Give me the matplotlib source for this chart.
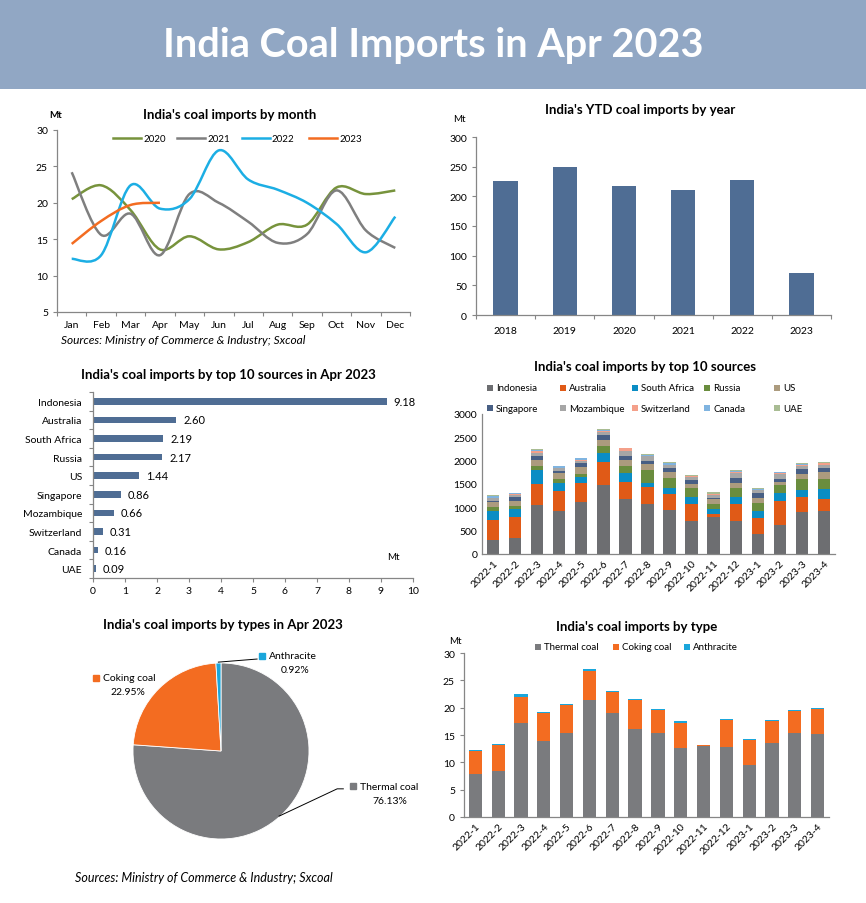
import numpy as np
import matplotlib
matplotlib.use("Agg")
import matplotlib.pyplot as plt
from matplotlib.path import Path
from matplotlib.patches import PathPatch, Rectangle
from matplotlib.lines import Line2D

plt.rcParams['font.family'] = ['Lato', 'DejaVu Sans']

# ---- data ----
months = ['Jan', 'Feb', 'Mar', 'Apr', 'May', 'Jun', 'Jul', 'Aug', 'Sep', 'Oct', 'Nov', 'Dec']
imp_2020 = [20.5, 22.4, 19.0, 13.6, 15.4, 13.6, 14.6, 17.0, 17.0, 22.1, 21.2, 21.7]
imp_2021 = [24.2, 15.6, 18.5, 12.8, 21.2, 20.0, 17.4, 14.5, 15.7, 21.7, 16.2, 13.8]
imp_2022 = [12.3, 12.8, 22.4, 19.2, 20.5, 27.2, 23.2, 21.8, 20.0, 17.1, 13.2, 18.1]
imp_2023 = [14.35, 17.5, 19.7, 20.0]

ytd_years = ['2018', '2019', '2020', '2021', '2022', '2023']
ytd_values = [226.2, 249.9, 217.8, 211.0, 227.9, 70.9]

top_sources = ['Indonesia', 'Australia', 'South Africa', 'Russia', 'US',
               'Singapore', 'Mozambique', 'Switzerland', 'Canada', 'UAE']
apr_values = [9.18, 2.60, 2.19, 2.17, 1.44, 0.86, 0.66, 0.31, 0.16, 0.09]

periods = ['2022-1', '2022-2', '2022-3', '2022-4', '2022-5', '2022-6', '2022-7', '2022-8',
           '2022-9', '2022-10', '2022-11', '2022-12', '2023-1', '2023-2', '2023-3', '2023-4']
# monthly imports by source, 10kt
indonesia = [300, 343, 1057, 928, 1121, 1485, 1186, 1071, 943, 714, 800, 714, 436, 628, 893, 918]
australia = [430, 457, 443, 429, 407, 486, 357, 372, 343, 357, 57, 357, 335, 515, 335, 260]
south_africa = [200, 171, 300, 171, 129, 200, 200, 85, 128, 157, 114, 157, 157, 171, 150, 219]
russia = [85, 64, 93, 86, 57, 143, 150, 272, 214, 186, 100, 186, 172, 171, 229, 217]
us = [95, 107, 128, 121, 157, 136, 128, 128, 129, 86, 107, 107, 100, 65, 107, 144]
singapore = [35, 85, 86, 50, 86, 107, 86, 72, 93, 93, 29, 107, 107, 57, 114, 86]
mozambique = [50, 43, 64, 57, 36, 57, 107, 100, 57, 57, 64, 107, 57, 107, 57, 66]
switzerland = [15, 14, 43, 8, 28, 29, 50, 7, 7, 14, 14, 22, 14, 14, 22, 31]
canada = [30, 21, 21, 35, 29, 21, 7, 7, 43, 14, 8, 21, 22, 22, 14, 16]
uae = [15, 7, 8, 8, 7, 14, 7, 29, 14, 15, 28, 22, 14, 14, 22, 9]
source_series = [indonesia, australia, south_africa, russia, us,
                 singapore, mozambique, switzerland, canada, uae]

thermal = [7.93, 8.48, 17.26, 13.96, 15.43, 21.46, 19.09, 16.16, 15.30, 12.68, 12.93, 12.87, 9.57, 13.60, 15.30, 15.22]
coking = [4.14, 4.62, 4.69, 5.00, 5.12, 5.24, 3.84, 5.30, 4.33, 4.58, 0.18, 4.93, 4.58, 3.96, 4.15, 4.59]
anthracite = [0.23, 0.30, 0.49, 0.31, 0.18, 0.43, 0.18, 0.19, 0.19, 0.24, 0.12, 0.19, 0.18, 0.24, 0.18, 0.18]

pie_labels = ['Thermal coal', 'Coking coal', 'Anthracite']
pie_shares = [76.13, 22.95, 0.92]

# ---- style ----
W, H = 866, 904
AXIS_C = '#868686'
BAR_BLUE = '#4F6D94'
YEAR_COLORS = ['#77933C', '#7F7F7F', '#1CAEE4', '#F36C21']
SOURCE_COLORS = ['#6D6E71', '#E05A17', '#0A8DC4', '#6A8D3E', '#AC9B7E',
                 '#485F84', '#A6A6A6', '#F4A08A', '#80B4E0', '#A9BC93']
TYPE_COLORS = ['#7A7B7E', '#F36C21', '#1AA6DB']
TICK_FS = 7.5
TITLE_FS = 9.5

fig = plt.figure(figsize=(W / 100, H / 100), dpi=100)


def px_axes(x0, y0, x1, y1):
    return fig.add_axes([x0 / W, 1 - y1 / H, (x1 - x0) / W, (y1 - y0) / H])


def ftext(x, y, s, **kw):
    kw.setdefault('ha', 'center')
    kw.setdefault('va', 'center')
    fig.text(x / W, 1 - y / H, s, **kw)


def legend_box(x, y, label, color):
    fig.patches.append(Rectangle(((x - 3) / W, 1 - (y + 3) / H), 6 / W, 6 / H,
                                 transform=fig.transFigure, color=color, lw=0))
    ftext(x + 6, y, label, ha='left', fontsize=7)


def style_ax(ax):
    for s in ['top', 'right']:
        ax.spines[s].set_visible(False)
    for s in ['left', 'bottom']:
        ax.spines[s].set_color(AXIS_C)
        ax.spines[s].set_linewidth(0.9)
    ax.tick_params(which='both', colors=AXIS_C, labelcolor='black', labelsize=TICK_FS,
                   length=3, width=0.8)
    ax.set_facecolor('none')


def category_xaxis(ax, labels, boundary_ticks=True, **lab_kw):
    n = len(labels)
    ax.set_xlim(-0.5, n - 0.5)
    ax.set_xticks(np.arange(-0.5, n, 1))
    ax.set_xticklabels([])
    if not boundary_ticks:
        ax.tick_params(axis='x', which='major', length=0)
    ax.set_xticks(np.arange(n), minor=True)
    ax.set_xticklabels(labels, minor=True, **lab_kw)
    ax.tick_params(axis='x', which='minor', length=0)


def smooth_line(ax, ys, color):
    pts = np.column_stack([np.arange(len(ys)), ys]).astype(float)
    n = len(pts)
    verts, codes = [pts[0]], [Path.MOVETO]
    for i in range(n - 1):
        p0, p1 = pts[max(i - 1, 0)], pts[i]
        p2, p3 = pts[i + 1], pts[min(i + 2, n - 1)]
        verts += [p1 + (p2 - p0) / 6, p2 - (p3 - p1) / 6, p2]
        codes += [Path.CURVE4] * 3
    ax.add_patch(PathPatch(Path(verts, codes), fill=False, edgecolor=color, lw=1.8))


# header band
fig.patches.append(Rectangle((0, 1 - 90 / H), 1, 90 / H, transform=fig.transFigure,
                             color='#91A7C4', lw=0))
ftext(433, 46, 'India Coal Imports in Apr 2023', color='white', fontsize=28.5, fontweight='bold')

# ---- 1. monthly lines ----
ax1 = px_axes(57, 131, 410, 313)
style_ax(ax1)
for ys, c in zip([imp_2020, imp_2021, imp_2022, imp_2023], YEAR_COLORS):
    smooth_line(ax1, ys, c)
ax1.set_ylim(5, 30)
ax1.set_yticks(range(5, 31, 5))
category_xaxis(ax1, months)
ax1.tick_params(axis='x', which='minor', pad=6)
ftext(230, 115, "India's coal imports by month", fontsize=TITLE_FS, fontweight='bold')
ftext(56, 115, 'Mt', fontsize=7, fontweight='bold')
for x0, year, c in zip([113, 177, 242, 309], ['2020', '2021', '2022', '2023'], YEAR_COLORS):
    fig.add_artist(Line2D([x0 / W, (x0 + 28) / W], [1 - 139 / H] * 2, color=c, lw=1.8))
    ftext(x0 + 30, 139, year, ha='left', fontsize=7)
ftext(61, 340, 'Sources: Ministry of Commerce & Industry; Sxcoal', ha='left',
      fontsize=8.6, style='italic')

# ---- 2. YTD by year ----
ax2 = px_axes(476, 138, 831, 316)
style_ax(ax2)
ax2.bar(np.arange(len(ytd_years)), ytd_values, width=0.41, color=BAR_BLUE)
ax2.set_ylim(0, 300)
ax2.set_yticks(range(0, 301, 50))
category_xaxis(ax2, ytd_years)
ax2.tick_params(axis='x', which='minor', pad=8)
ftext(640, 110, "India's YTD coal imports by year", fontsize=TITLE_FS, fontweight='bold')
ftext(459, 119, 'Mt', fontsize=7)

# ---- 3. top 10 sources in Apr 2023 ----
ax3 = px_axes(93, 393, 413, 579)
style_ax(ax3)
ypos = np.arange(len(top_sources))[::-1]
ax3.barh(ypos, apr_values, height=0.36, color=BAR_BLUE)
for y, v in zip(ypos, apr_values):
    ax3.annotate(f'{v:.2f}', (v, y), xytext=(5, 0), textcoords='offset points',
                 va='center', ha='left', fontsize=8)
ax3.set_xlim(0, 10)
ax3.set_xticks(range(0, 11))
ax3.set_ylim(-0.5, len(top_sources) - 0.5)
ax3.set_yticks(np.arange(-0.5, len(top_sources), 1))
ax3.set_yticklabels([])
ax3.set_yticks(ypos, minor=True)
ax3.set_yticklabels(top_sources, minor=True)
ax3.tick_params(axis='y', which='minor', length=0, pad=8)
ax3.tick_params(axis='x', pad=3)
ftext(228, 375, "India's coal imports by top 10 sources in Apr 2023", fontsize=TITLE_FS,
      fontweight='bold')
ftext(393, 557, 'Mt', fontsize=7)

# ---- 4. monthly imports by source ----
ax4 = px_axes(482, 415, 835, 555)
style_ax(ax4)
xs = np.arange(len(periods))
bottom = np.zeros(len(periods))
for vals, c in zip(source_series, SOURCE_COLORS):
    ax4.bar(xs, vals, bottom=bottom, width=0.56, color=c)
    bottom += np.array(vals)
ax4.set_ylim(0, 3000)
ax4.set_yticks(range(0, 3001, 500))
ax4.tick_params(axis='y', length=0)
category_xaxis(ax4, periods, boundary_ticks=False, rotation=45, ha='right',
               rotation_mode='anchor')
ax4.tick_params(axis='x', which='minor', pad=3)
ftext(645, 367, "India's coal imports by top 10 sources", fontsize=TITLE_FS, fontweight='bold')
leg_x = [490, 563, 635, 707, 777]
for i, (name, c) in enumerate(zip(top_sources, SOURCE_COLORS)):
    legend_box(leg_x[i % 5], 389 if i < 5 else 409, name, c)

# ---- 5. pie by type ----
ax5 = px_axes(41, 640, 401, 864)
ax5.pie(pie_shares, colors=TYPE_COLORS, startangle=90, counterclock=False,
        wedgeprops=dict(edgecolor='white', linewidth=0.6))
ax5.set_xlim(-180 / 88, 180 / 88)
ax5.set_ylim(-112 / 88, 112 / 88)
ax5.axis('off')
pie_label_pos = [(1.50, -0.40, 1.92, -0.56), (-1.42, 0.83, -1.06, 0.68), (0.47, 1.08, 0.84, 0.93)]
for (mx, my, px, py), lab, share, c in zip(pie_label_pos, pie_labels, pie_shares, TYPE_COLORS):
    ax5.plot(mx, my, marker='s', ms=4, color=c, ls='none')
    ax5.text(mx + 0.08, my, lab, ha='left', va='center', fontsize=7.5)
    ax5.text(px, py, f'{share:.2f}%', ha='center', va='center', fontsize=7.5)
ax5.plot([-0.03, 0.41], [1.01, 1.045], color='black', lw=0.7)
ax5.plot([0.66, 1.32, 1.39], [-0.74, -0.43, -0.43], color='black', lw=0.7)
ftext(223, 625, "India's coal imports by types in Apr 2023", fontsize=TITLE_FS, fontweight='bold')
ftext(75, 878, 'Sources: Ministry of Commerce & Industry; Sxcoal', ha='left',
      fontsize=9, style='italic')

# ---- 6. monthly imports by type ----
ax6 = px_axes(464, 654, 829, 818)
style_ax(ax6)
bottom = np.zeros(len(periods))
for vals, c, lab in zip([thermal, coking, anthracite], TYPE_COLORS, pie_labels):
    ax6.bar(xs, vals, bottom=bottom, width=0.58, color=c)
    bottom += np.array(vals)
ax6.set_ylim(0, 30)
ax6.set_yticks(range(0, 31, 5))
category_xaxis(ax6, periods, boundary_ticks=False, rotation=45, ha='right',
               rotation_mode='anchor')
ax6.tick_params(axis='x', which='minor', pad=3)
ftext(637, 627, "India's coal imports by type", fontsize=TITLE_FS, fontweight='bold')
ftext(455, 641, 'Mt', fontsize=7)
for x0, lab, c in zip([538, 616, 687], pie_labels, TYPE_COLORS):
    legend_box(x0, 648, lab, c)

fig.savefig('out.png', dpi=100)
